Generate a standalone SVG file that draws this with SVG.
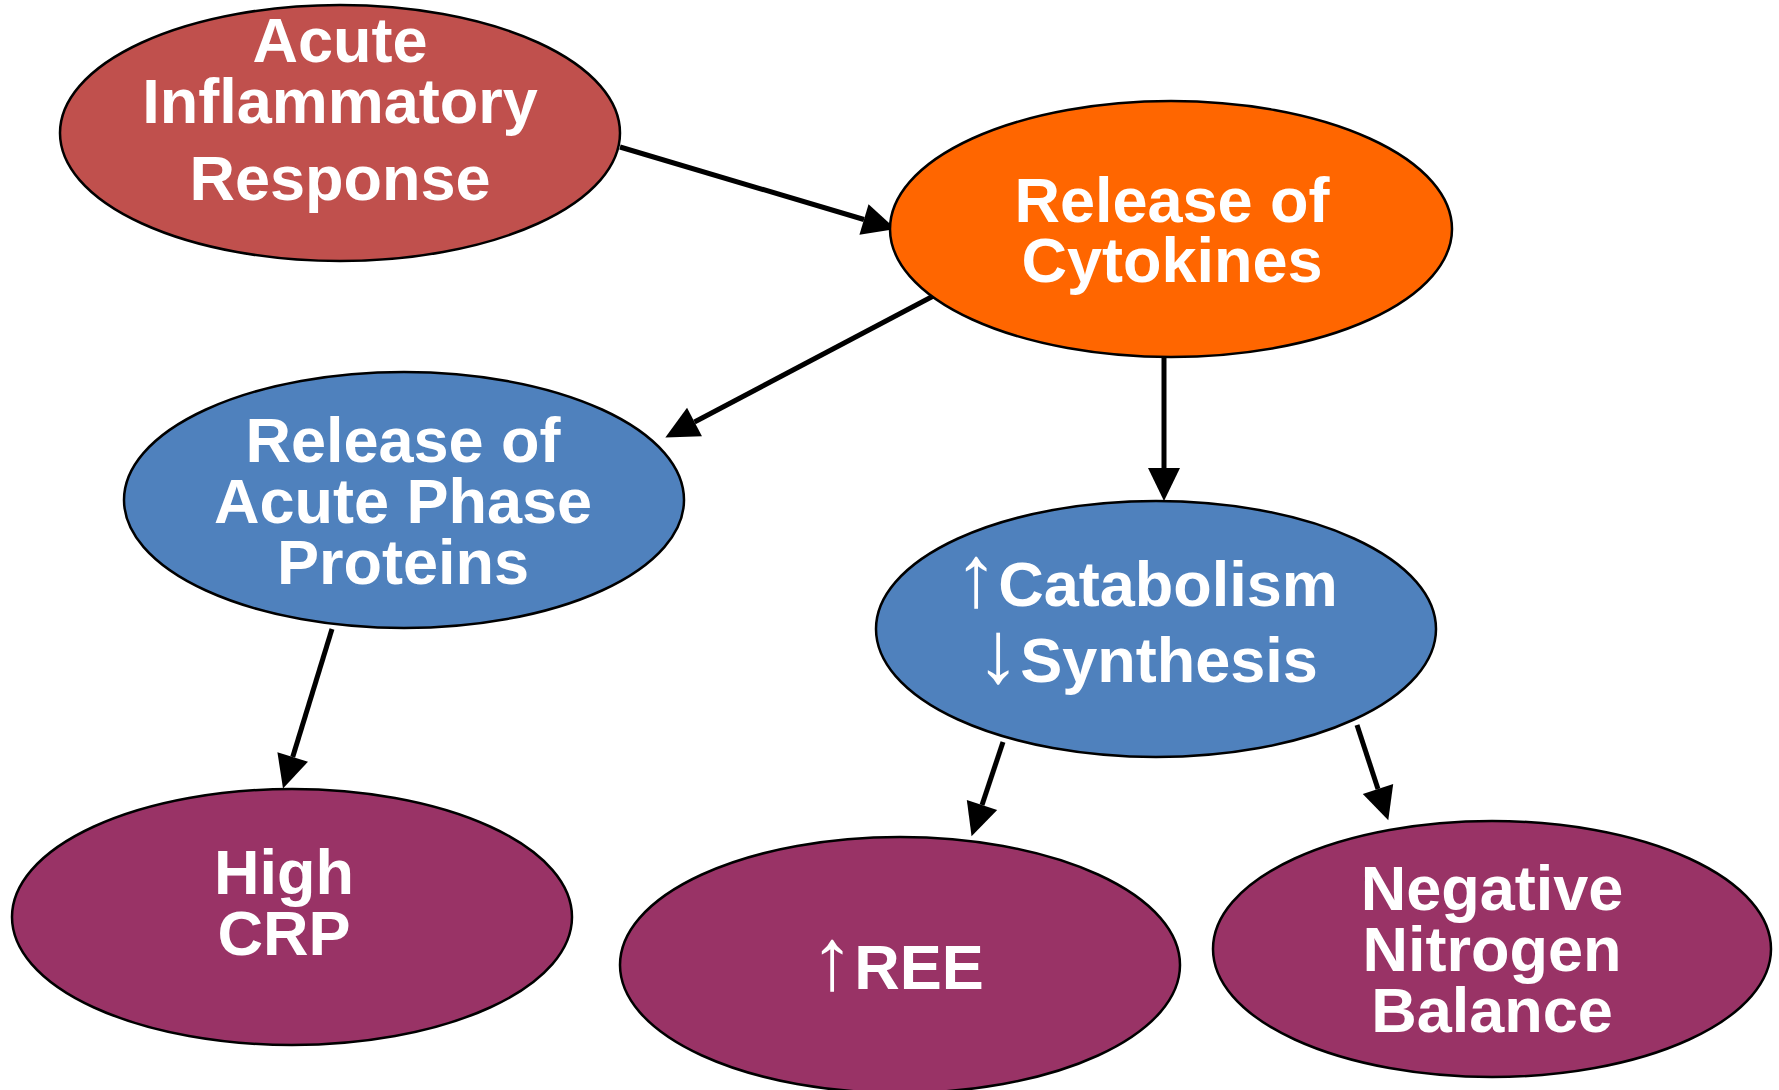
<svg xmlns="http://www.w3.org/2000/svg" width="1779" height="1090" viewBox="0 0 1779 1090">
<style>
.n{stroke:#000;stroke-width:2.5}
.t{font-family:"Liberation Sans",Arial,sans-serif;font-weight:bold;font-size:63px;fill:#fff;text-anchor:middle}
.a{font-weight:normal;font-size:88px}
.c{stroke:#000;stroke-width:5;fill:none}
</style>
<defs>
<marker id="ah" markerUnits="userSpaceOnUse" markerWidth="36" markerHeight="34" refX="0" refY="16" orient="auto" overflow="visible">
<path d="M0,0 L33,16 L0,32 z" fill="#000"/>
</marker>
</defs>
<rect width="1779" height="1090" fill="#fff"/>
<g id="connectors">
<line class="c" x1="620" y1="147" x2="864" y2="219.5" marker-end="url(#ah)"/>
<line class="c" x1="939" y1="293" x2="694.5" y2="422" marker-end="url(#ah)"/>
<line class="c" x1="1164" y1="357" x2="1164" y2="468" marker-end="url(#ah)"/>
<line class="c" x1="332" y1="629" x2="292.7" y2="757" marker-end="url(#ah)"/>
<line class="c" x1="1003" y1="742" x2="982" y2="805" marker-end="url(#ah)"/>
<line class="c" x1="1357" y1="725" x2="1378" y2="789" marker-end="url(#ah)"/>
</g>
<g id="acute-inflammatory">
<ellipse class="n" cx="340" cy="133" rx="280" ry="128" fill="#C0504D"/>
<text class="t" x="340" y="62">Acute</text>
<text class="t" x="340" y="123">Inflammatory</text>
<text class="t" x="340" y="200">Response</text>
</g>
<g id="cytokines">
<ellipse class="n" cx="1171" cy="229" rx="281" ry="128" fill="#FF6600"/>
<text class="t" x="1172" y="222">Release of</text>
<text class="t" x="1172" y="282">Cytokines</text>
</g>
<g id="acute-phase">
<ellipse class="n" cx="404" cy="500" rx="280" ry="128" fill="#4F81BD"/>
<text class="t" x="403" y="462">Release of</text>
<text class="t" x="403" y="523">Acute Phase</text>
<text class="t" x="403" y="584">Proteins</text>
</g>
<g id="catabolism">
<ellipse class="n" cx="1156" cy="629" rx="280" ry="128" fill="#4F81BD"/>
<text class="t" x="1146" y="606"><tspan class="a">↑</tspan>Catabolism</text>
<text class="t" x="1147" y="682"><tspan class="a">↓</tspan>Synthesis</text>
</g>
<g id="high-crp">
<ellipse class="n" cx="292" cy="917" rx="280" ry="128" fill="#993366"/>
<text class="t" x="284" y="894">High</text>
<text class="t" x="284" y="955">CRP</text>
</g>
<g id="ree">
<ellipse class="n" cx="900" cy="965" rx="280" ry="128" fill="#993366"/>
<text class="t" x="897" y="989"><tspan class="a">↑</tspan>REE</text>
</g>
<g id="nitrogen">
<ellipse class="n" cx="1492" cy="949" rx="279" ry="128" fill="#993366"/>
<text class="t" x="1492" y="910">Negative</text>
<text class="t" x="1492" y="971">Nitrogen</text>
<text class="t" x="1492" y="1032">Balance</text>
</g>
</svg>
